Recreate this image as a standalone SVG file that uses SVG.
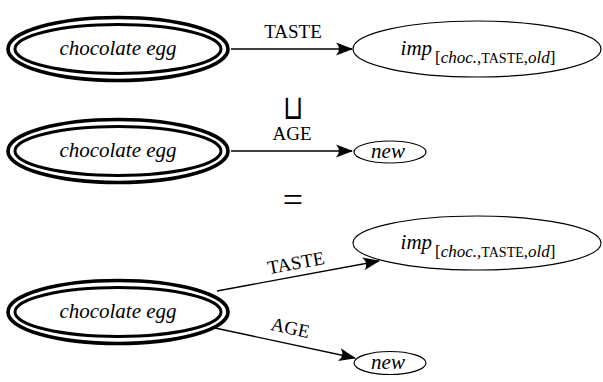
<svg xmlns="http://www.w3.org/2000/svg" width="603" height="382" viewBox="0 0 603 382">
<style>
.bg{fill:#fff}
.outer{fill:none;stroke:#000;stroke-width:3.6}
.inner{fill:none;stroke:#000;stroke-width:3}
.single{fill:#fff;stroke:#000;stroke-width:1.2}
.edge{fill:none;stroke:#000;stroke-width:1.3;marker-end:url(#arr)}
.nt{font-family:"Liberation Serif","Times New Roman",serif;font-style:italic;font-size:21px;fill:#000}
.lbl{font-family:"Liberation Serif","Times New Roman",serif;font-size:19px;fill:#000}
.sub{font-size:17px}
.up{font-style:normal}
.sc{font-style:normal;font-size:14px}
.op{font-family:"Liberation Serif","DejaVu Serif",serif;fill:#000}
.cup{font-family:"DejaVu Sans",sans-serif;font-weight:200;fill:#000}
</style>
<defs>
<marker id="arr" markerUnits="userSpaceOnUse" markerWidth="20" markerHeight="16" refX="0" refY="0" viewBox="-18 -8 20 16" orient="auto" overflow="visible">
<path d="M1,0 L-16,-6.5 Q-10,0 -16,6.5 Z" fill="#000"/>
</marker>
</defs>
<rect class="bg" x="0" y="0" width="603" height="382"/>
<g id="connectors">
<g id="e1"><path class="edge" d="M231,49 L352,49"/><text class="lbl" x="293" y="38" text-anchor="middle">TASTE</text></g>
<g id="e2"><path class="edge" d="M231,151 L352,151"/><text class="lbl" x="292" y="140" text-anchor="middle">AGE</text></g>
<g id="e3"><path class="edge" d="M217,291 L379,261"/><text class="lbl" x="297" y="269" text-anchor="middle" transform="rotate(-10.4 297 269)">TASTE</text></g>
<g id="e4"><path class="edge" d="M215,328 L355,358"/><text class="lbl" x="289" y="334" text-anchor="middle" transform="rotate(12.3 289 334)">AGE</text></g>
</g>
<g id="n1"><ellipse class="outer" cx="118" cy="49" rx="110" ry="31.5"/><ellipse class="inner" cx="118" cy="49" rx="103" ry="24.5"/><text class="nt" x="118" y="55" text-anchor="middle">chocolate egg</text></g>
<g id="n2"><ellipse class="single" cx="477" cy="49" rx="124" ry="28"/><text class="nt" x="478" y="55" text-anchor="middle">imp<tspan class="sub" dx="3" dy="8"><tspan class="up">[</tspan>choc.<tspan class="up">,</tspan><tspan class="sc">TASTE</tspan><tspan class="up">,</tspan>old<tspan class="up">]</tspan></tspan></text></g>
<g id="op1"><text class="cup" x="293" y="114.5" font-size="26" text-anchor="middle" transform="translate(0,-30) scale(1,1.3)">⊔</text></g>
<g id="n3"><ellipse class="outer" cx="118" cy="151" rx="110" ry="31.5"/><ellipse class="inner" cx="118" cy="151" rx="103" ry="24.5"/><text class="nt" x="118" y="157" text-anchor="middle">chocolate egg</text></g>
<g id="n4"><ellipse class="single" cx="390" cy="152" rx="36" ry="11"/><text class="nt" x="388" y="158" font-size="20" text-anchor="middle">new</text></g>
<g id="op2"><text class="op" x="293" y="212" font-size="36" text-anchor="middle">=</text></g>
<g id="n5"><ellipse class="outer" cx="118" cy="312" rx="110" ry="31.5"/><ellipse class="inner" cx="118" cy="312" rx="103" ry="24.5"/><text class="nt" x="118" y="318" text-anchor="middle">chocolate egg</text></g>
<g id="n6"><ellipse class="single" cx="477" cy="243" rx="124" ry="27"/><text class="nt" x="478" y="249" text-anchor="middle">imp<tspan class="sub" dx="3" dy="8"><tspan class="up">[</tspan>choc.<tspan class="up">,</tspan><tspan class="sc">TASTE</tspan><tspan class="up">,</tspan>old<tspan class="up">]</tspan></tspan></text></g>
<g id="n7"><ellipse class="single" cx="390" cy="363" rx="36" ry="11.5"/><text class="nt" x="388" y="369" font-size="20" text-anchor="middle">new</text></g>
</svg>
